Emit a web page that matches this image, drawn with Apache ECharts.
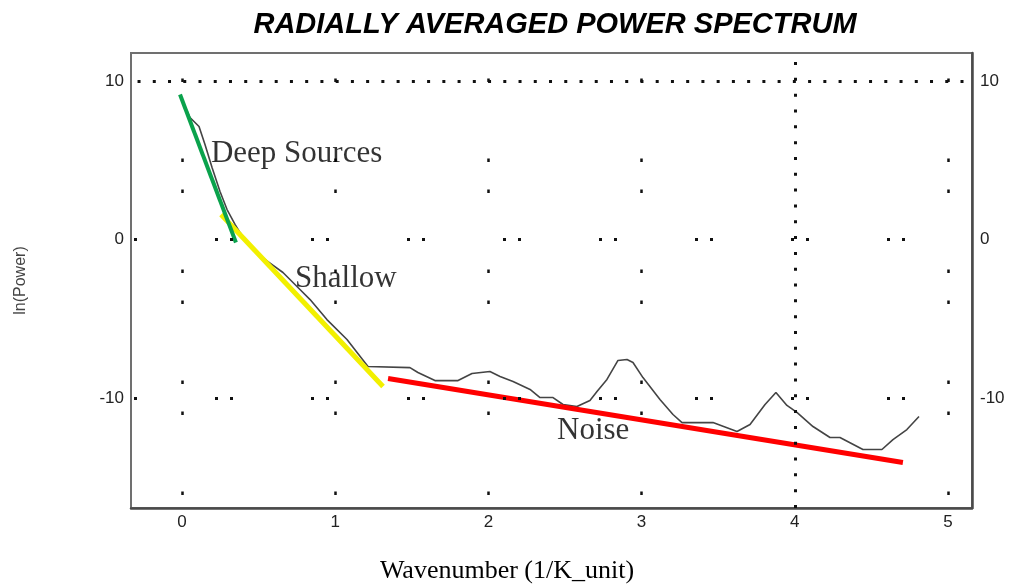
<!DOCTYPE html>
<html>
<head>
<meta charset="utf-8">
<title>Radially averaged power spectrum</title>
<script src="https://cdn.jsdelivr.net/npm/echarts@6/dist/echarts.min.js"></script>
<style>
  html, body { margin: 0; padding: 0; background: #fff; }
  #chart { width: 1014px; height: 588px; }
</style>
</head>
<body>
<div id="chart"></div>
<script>
// spectrum curve
const waveNumber = [0.01, 0.052, 0.111, 0.15, 0.196, 0.248, 0.294, 0.346, 0.379, 0.463, 0.561, 0.659, 0.77, 0.836, 0.946, 1.077, 1.214, 1.227, 1.488, 1.54, 1.651, 1.802, 1.893, 2.01, 2.076, 2.161, 2.272, 2.337, 2.422, 2.487, 2.578, 2.663, 2.709, 2.774, 2.846, 2.905, 2.944, 3.009, 3.12, 3.205, 3.264, 3.466, 3.623, 3.708, 3.806, 3.877, 3.949, 4.014, 4.119, 4.23, 4.295, 4.445, 4.569, 4.641, 4.732, 4.811];
const lnPower = [8.6, 7.7, 7.13, 5.99, 4.54, 3.03, 1.89, 0.95, 0.44, -0.63, -1.39, -2.08, -3.15, -3.79, -5.05, -6.31, -8.01, -8.08, -8.08, -8.39, -8.9, -8.9, -8.45, -8.33, -8.64, -8.96, -9.46, -9.97, -9.97, -10.41, -10.54, -10.16, -9.59, -8.83, -7.63, -7.57, -7.76, -8.71, -10.09, -11.04, -11.55, -11.55, -12.11, -11.67, -10.41, -9.65, -10.47, -10.91, -11.8, -12.49, -12.49, -13.25, -13.25, -12.62, -11.99, -11.17];

// hand drawn fit lines
const deepX = [-0.013, 0.352];
const deepY = [9.15, -0.19];
const shallowX = [0.255, 1.312];
const shallowY = [1.58, -9.27];
const noiseX = [1.345, 4.706];
const noiseY = [-8.77, -14.07];

// annotation texts
const noteText = ['Deep Sources', 'Shallow', 'Noise'];
const noteX = [0.189, 0.738, 2.448];
const noteY = [5.43, -2.46, -12.05];

const xTicks = [0, 1, 2, 3, 4, 5];
const yTicks = [-10, 0, 10];
const xGrid = [0, 1, 2, 3, 5];
const yGrid = [0, -10];
const xRef = 4;
const yRef = 10;

const pairs = (xs, ys) => xs.map((x, i) => [x, ys[i]]);

const myChart = echarts.init(document.getElementById('chart'));

const labelFont = {
  fontFamily: 'Liberation Sans, Arial, sans-serif',
  fontSize: 17,
  color: '#222',
};

// dotted grid, drawn as mark lines so each one gets its own dot pattern
const gridLines = [];
xGrid.forEach(function (v) {
  gridLines.push({
    xAxis: v,
    lineStyle: { color: '#111', width: 2.5, type: [3.5, 76.5, 3.5, 27.5], dashOffset: 98 },
  });
});
yGrid.forEach(function (v) {
  gridLines.push({
    yAxis: v,
    lineStyle: { color: '#111', width: 3, type: [3, 12, 3, 78], dashOffset: 12 },
  });
});
gridLines.push({
  yAxis: yRef,
  lineStyle: { color: '#111', width: 3, type: [3, 12.24], dashOffset: 8.7 },
});
gridLines.push({
  xAxis: xRef,
  lineStyle: { color: '#111', width: 3, type: [3, 12.82], dashOffset: 0 },
});

myChart.setOption({
  animation: false,
  backgroundColor: '#fff',
  grid: {
    left: 131,
    right: 42,
    top: 53,
    bottom: 80,
    show: true,
    borderColor: '#707070',
    borderWidth: 2,
  },
  graphic: [
    {
      type: 'text',
      x: 555,
      y: 25,
      style: {
        text: 'RADIALLY AVERAGED POWER SPECTRUM',
        font: 'italic bold 29px "Liberation Sans", Arial, sans-serif',
        fill: '#000',
        align: 'center',
        verticalAlign: 'middle',
        textAlign: 'center',
        textVerticalAlign: 'middle',
      },
    },
    {
      type: 'text',
      x: 507,
      y: 571,
      style: {
        text: 'Wavenumber (1/K_unit)',
        font: '26px "Liberation Serif", "Times New Roman", serif',
        fill: '#000',
        align: 'center',
        verticalAlign: 'middle',
        textAlign: 'center',
        textVerticalAlign: 'middle',
      },
    },
  ],
  xAxis: {
    type: 'value',
    min: -0.333,
    max: 5.157,
    axisLine: { show: true, onZero: false, lineStyle: { color: '#4a4a4a', width: 2.5 } },
    axisTick: { show: false },
    splitLine: { show: false },
    axisLabel: Object.assign({ customValues: xTicks, margin: 6 }, labelFont),
  },
  yAxis: [
    {
      type: 'value',
      min: -16.94,
      max: 11.77,
      name: 'ln(Power)',
      nameLocation: 'middle',
      nameGap: 102,
      nameRotate: 90,
      nameTextStyle: {
        fontFamily: 'Liberation Sans, Arial, sans-serif',
        fontSize: 16,
        color: '#444',
      },
      axisLine: { show: false },
      axisTick: { show: false },
      splitLine: { show: false },
      axisLabel: Object.assign({ customValues: yTicks, margin: 7 }, labelFont),
    },
    {
      type: 'value',
      position: 'right',
      min: -16.94,
      max: 11.77,
      axisLine: { show: true, lineStyle: { color: '#4a4a4a', width: 2.5 } },
      axisTick: { show: false },
      splitLine: { show: false },
      axisLabel: Object.assign({ customValues: yTicks, margin: 8 }, labelFont),
    },
  ],
  series: [
    {
      name: 'grid',
      type: 'line',
      data: [],
      silent: true,
      z: 1,
      markLine: {
        silent: true,
        symbol: ['none', 'none'],
        label: { show: false },
        emphasis: { disabled: true },
        data: gridLines,
      },
    },
    {
      name: 'spectrum',
      type: 'line',
      data: pairs(waveNumber, lnPower),
      showSymbol: false,
      symbol: 'none',
      lineStyle: { color: '#444', width: 1.6 },
      z: 2,
    },
    {
      name: 'Deep',
      type: 'line',
      data: pairs(deepX, deepY),
      symbol: 'none',
      lineStyle: { color: '#0aa24c', width: 4 },
      z: 4,
    },
    {
      name: 'Shallow',
      type: 'line',
      data: pairs(shallowX, shallowY),
      symbol: 'none',
      lineStyle: { color: '#f2f000', width: 5 },
      z: 3,
    },
    {
      name: 'Noise',
      type: 'line',
      data: pairs(noiseX, noiseY),
      symbol: 'none',
      lineStyle: { color: '#ff0000', width: 5 },
      z: 3,
    },
    {
      name: 'notes',
      type: 'scatter',
      data: noteX.map((x, i) => ({ value: [x, noteY[i]], name: noteText[i] })),
      symbolSize: 0,
      itemStyle: { color: 'transparent' },
      silent: true,
      z: 5,
      label: {
        show: true,
        position: 'right',
        distance: 0,
        formatter: '{b}',
        fontFamily: 'Liberation Serif, Times New Roman, serif',
        fontSize: 31,
        color: '#000',
      },
    },
  ],
});

window.addEventListener('resize', myChart.resize);
</script>
</body>
</html>
